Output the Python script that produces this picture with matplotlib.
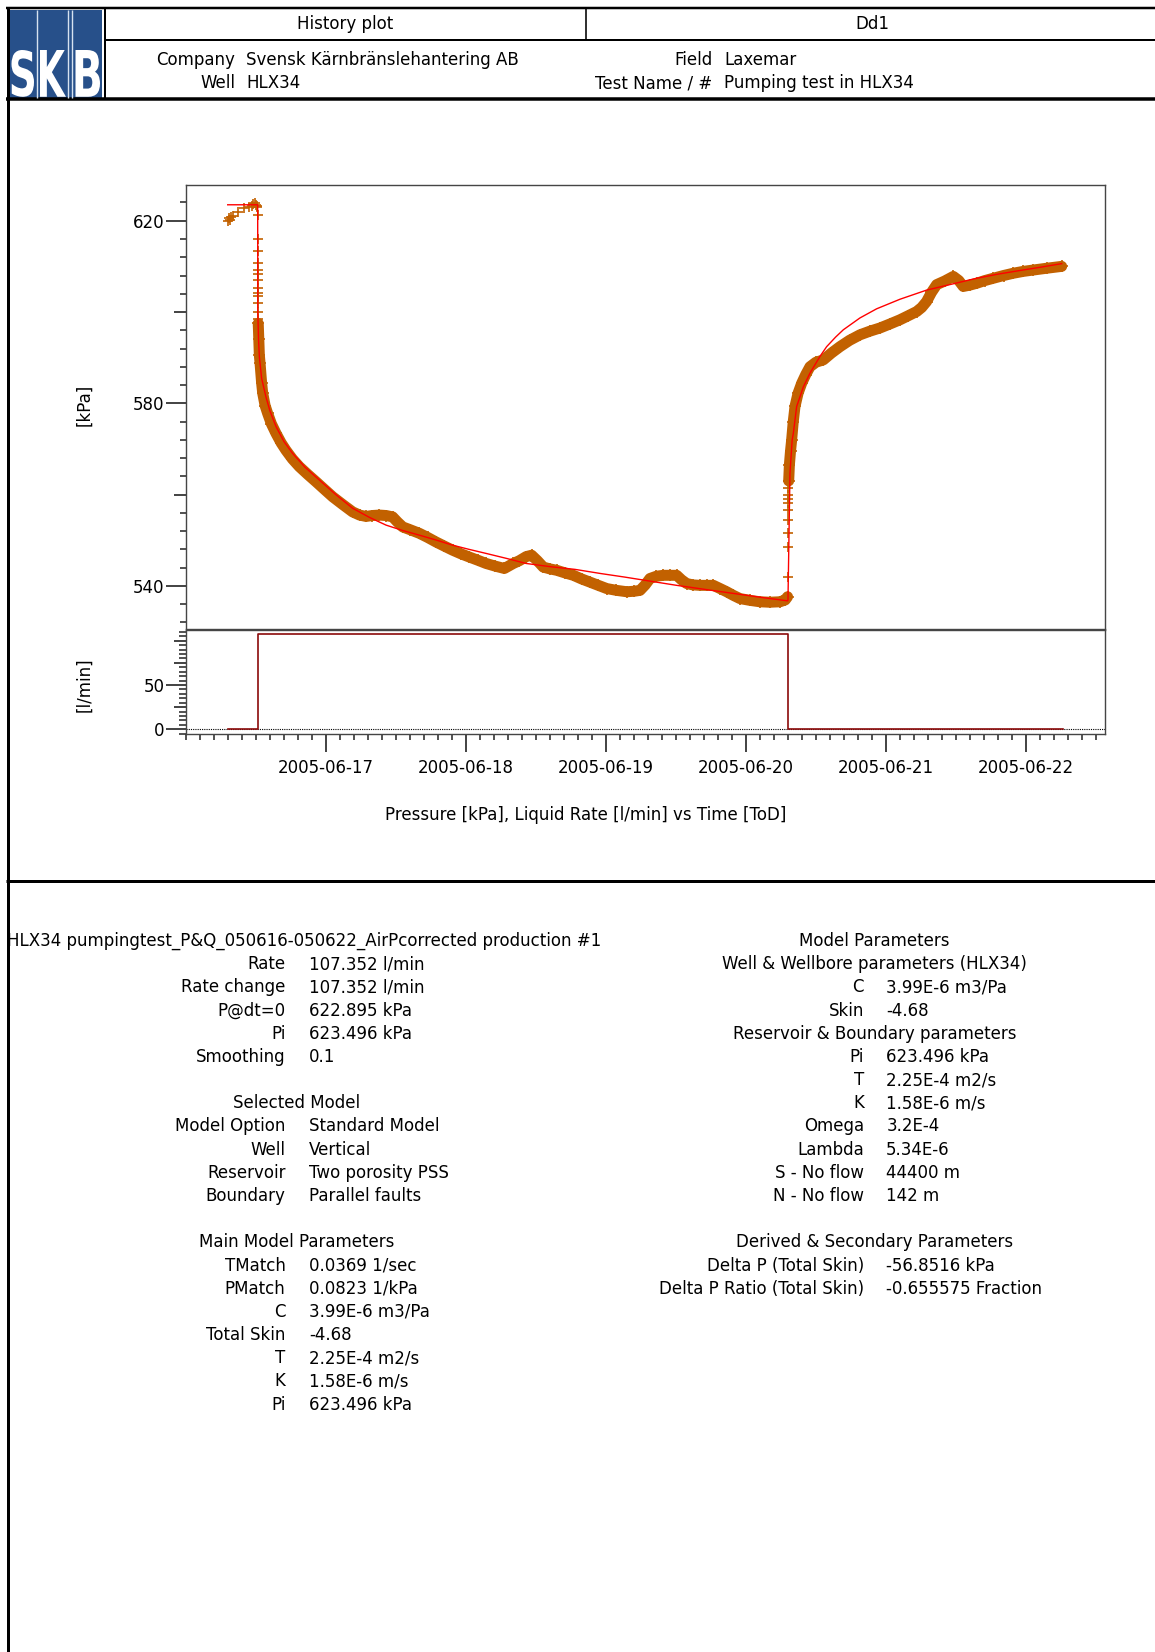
import numpy as np
import matplotlib
matplotlib.use("Agg")
import matplotlib.pyplot as plt
import matplotlib.dates as mdates
from matplotlib.ticker import MultipleLocator, FixedLocator
from matplotlib.patches import Rectangle, PathPatch
from matplotlib.lines import Line2D
from matplotlib.textpath import TextPath
from matplotlib.font_manager import FontProperties
from matplotlib.transforms import Affine2D

plt.rcParams["font.family"] = ["DejaVu Sans"]
plt.rcParams["font.size"] = 12

# ---------------------------------------------------------------- data
# Times are given as fractional day of June 2005.
pre_day = [16.300, 16.305, 16.312, 16.322, 16.335, 16.369, 16.417, 16.452,
           16.468, 16.480, 16.490, 16.498, 16.505, 16.510]
pre_kpa = [620.0, 620.6, 620.2, 620.8, 621.1, 621.9, 622.7, 623.0,
           623.2, 623.6, 623.9, 623.5, 623.3, 623.0]

drop_day = [16.512] * 13
drop_kpa = [621.3, 616.0, 613.3, 610.8, 609.2, 608.3, 607.1, 605.2, 604.1,
            603.4, 601.9, 600.1, 598.5]

draw_day = [16.516, 16.520, 16.524, 16.529, 16.540, 16.548, 16.565, 16.583,
            16.610, 16.643, 16.680, 16.714, 16.760, 16.810, 16.870, 16.929,
            16.990, 17.048, 17.120, 17.190, 17.240, 17.286, 17.330, 17.381,
            17.430, 17.476, 17.510, 17.548, 17.600, 17.667, 17.726, 17.786,
            17.845, 17.905, 17.965, 18.024, 18.085, 18.143, 18.210, 18.274,
            18.338, 18.381, 18.430, 18.469, 18.510, 18.552, 18.600, 18.648,
            18.710, 18.767, 18.826, 18.886, 18.945, 19.005, 19.075, 19.148,
            19.200, 19.243, 19.280, 19.314, 19.360, 19.410, 19.460, 19.505,
            19.540, 19.576, 19.620, 19.671, 19.720, 19.767, 19.815, 19.862,
            19.910, 19.957, 20.030, 20.100, 20.170, 20.243, 20.280, 20.297]
draw_kpa = [597.5, 594.0, 590.5, 588.8, 584.5, 582.2, 579.5, 577.8,
            575.5, 573.4, 571.3, 569.7, 567.8, 566.1, 564.4, 562.8,
            561.1, 559.5, 557.8, 556.2, 555.5, 555.2, 555.4, 555.5,
            555.4, 555.1, 554.0, 552.9, 552.3, 551.5, 550.6, 549.6,
            548.7, 547.8, 547.0, 546.3, 545.6, 544.9, 544.3, 543.8,
            544.9, 545.5, 546.4, 546.7, 545.5, 544.1, 543.7, 543.4,
            542.8, 542.3, 541.5, 540.8, 540.1, 539.4, 539.0, 538.7,
            538.8, 539.0, 540.2, 541.6, 542.1, 542.3, 542.3, 542.3,
            541.3, 540.5, 540.2, 540.1, 540.1, 540.1, 539.4, 538.7,
            537.9, 537.2, 536.8, 536.5, 536.4, 536.5, 536.9, 537.6]

jump_day = [20.300] * 10
jump_kpa = [541.9, 548.5, 551.5, 554.4, 556.6, 558.1, 559.1, 559.9, 561.5, 563.0]

recov_day = [20.305, 20.310, 20.318, 20.326, 20.337, 20.350, 20.372, 20.398,
             20.427, 20.457, 20.500, 20.552, 20.610, 20.671, 20.740, 20.814,
             20.885, 20.957, 21.030, 21.100, 21.160, 21.219, 21.255, 21.290,
             21.325, 21.362, 21.420, 21.481, 21.520, 21.552, 21.600, 21.648,
             21.707, 21.767, 21.840, 21.910, 21.980, 22.052, 22.150, 22.255]
recov_kpa = [563.0, 566.5, 569.5, 571.9, 575.8, 579.3, 582.2, 584.4,
             586.3, 588.0, 589.0, 589.5, 591.0, 592.4, 593.8, 595.0,
             595.8, 596.5, 597.4, 598.3, 599.2, 600.1, 601.0, 602.3,
             604.3, 606.0, 606.8, 607.8, 606.9, 605.6, 605.9, 606.3,
             606.9, 607.4, 608.0, 608.5, 608.9, 609.2, 609.6, 610.0]

model_day = [16.298, 16.512, 16.513, 16.518, 16.524, 16.540, 16.571, 16.600,
             16.643, 16.700, 16.762, 16.850, 16.952, 17.070, 17.190, 17.310,
             17.429, 17.550, 17.667, 17.790, 17.905, 18.020, 18.143, 18.290,
             18.429, 18.600, 18.779, 18.960, 19.136, 19.320, 19.505, 19.710,
             19.917, 20.100, 20.298, 20.300, 20.314, 20.330, 20.338, 20.362,
             20.410, 20.457, 20.529, 20.576, 20.640, 20.695, 20.814, 20.933,
             21.100, 21.290, 21.469, 21.648, 21.800, 21.957, 22.100, 22.255]
model_kpa = [623.5, 623.5, 600.0, 594.0, 590.2, 585.5, 581.4, 578.3,
             574.9, 571.6, 569.0, 566.0, 563.2, 560.0, 557.0, 555.0,
             553.3, 552.1, 551.1, 550.0, 548.9, 548.0, 547.1, 546.0,
             544.9, 544.2, 543.6, 542.7, 541.9, 541.0, 540.1, 539.2,
             538.3, 537.5, 536.7, 537.0, 564.6, 572.0, 573.4, 579.3,
             583.6, 586.6, 590.3, 592.4, 594.5, 596.1, 598.7, 600.7,
             602.8, 604.8, 606.1, 607.4, 608.3, 609.1, 609.8, 610.6]

rate_day = [16.298, 16.512, 16.512, 20.298, 20.298, 22.264]
rate_lpm = [0.0, 0.0, 107.352, 107.352, 0.0, 0.0]

date_ticks = [17, 18, 19, 20, 21, 22]
p_ticks = [540, 560, 580, 600, 620]
p_tick_labels = ["540", "", "580", "", "620"]
q_ticks = [0, 25, 50, 75, 100]
q_tick_labels = ["0", "", "50", "", ""]

header_left = [("Company", "Svensk Kärnbränslehantering AB"), ("Well", "HLX34")]
header_right = [("Field", "Laxemar"), ("Test Name / #", "Pumping test in HLX34")]

rate_labels = ["Rate", "Rate change", "P@dt=0", "Pi", "Smoothing"]
rate_values = ["107.352 l/min", "107.352 l/min", "622.895 kPa", "623.496 kPa", "0.1"]
model_labels = ["Model Option", "Well", "Reservoir", "Boundary"]
model_values = ["Standard Model", "Vertical", "Two porosity PSS", "Parallel faults"]
main_labels = ["TMatch", "PMatch", "C", "Total Skin", "T", "K", "Pi"]
main_values = ["0.0369 1/sec", "0.0823 1/kPa", "3.99E-6 m3/Pa", "-4.68",
               "2.25E-4 m2/s", "1.58E-6 m/s", "623.496 kPa"]
well_labels = ["C", "Skin"]
well_values = ["3.99E-6 m3/Pa", "-4.68"]
res_labels = ["Pi", "T", "K", "Omega", "Lambda", "S - No flow", "N - No flow"]
res_values = ["623.496 kPa", "2.25E-4 m2/s", "1.58E-6 m/s", "3.2E-4", "5.34E-6",
              "44400 m", "142 m"]
derived_labels = ["Delta P (Total Skin)", "Delta P Ratio (Total Skin)"]
derived_values = ["-56.8516 kPa", "-0.655575 Fraction"]


def to_time(days):
    secs = np.round((np.asarray(days, dtype=float) - 1.0) * 86400).astype("int64")
    return np.datetime64("2005-06-01T00:00:00") + secs.astype("timedelta64[s]")


# ---------------------------------------------------------------- figure
W, H = 1155, 1652
fig = plt.figure(figsize=(W / 100, H / 100), dpi=100)
fig.patch.set_facecolor("white")


def px_axes(x0, y0, x1, y1):
    return fig.add_axes([x0 / W, 1 - y1 / H, (x1 - x0) / W, (y1 - y0) / H])


# page background layer in pixel coordinates
bg = fig.add_axes([0, 0, 1, 1], zorder=0)
bg.set_xlim(0, W)
bg.set_ylim(H, 0)
bg.axis("off")

ORANGE = "#C26100"
FRAME = "#454545"
PX = 0.72  # points per pixel

ax_p = px_axes(186, 184.7, 1104.8, 628.7)
ax_q = px_axes(186, 630.3, 1104.8, 733.7)
for a in (ax_p, ax_q):
    a.set_zorder(2)
    for s in a.spines.values():
        s.set_color(FRAME)
        s.set_linewidth(1.4 * PX)

# pressure panel
for d, p in ((draw_day, draw_kpa), (recov_day, recov_kpa)):
    ax_p.plot(to_time(d), p, color=ORANGE, lw=11 * PX,
              solid_capstyle="round", solid_joinstyle="round", zorder=2)
    ax_p.plot(to_time(d), p, ls="none", marker="+", ms=9, mew=1.2,
              color=ORANGE, zorder=2)
for d, p in ((pre_day, pre_kpa), (drop_day, drop_kpa), (jump_day, jump_kpa)):
    ax_p.plot(to_time(d), p, ls="none", marker="+", ms=7, mew=1.2,
              color=ORANGE, zorder=2)
ax_p.plot(to_time(model_day), model_kpa, color="#FF0000", lw=1.0, zorder=3)

ax_p.set_ylim(530.6, 627.9)
ax_p.yaxis.set_major_locator(FixedLocator(p_ticks))
ax_p.set_yticklabels(p_tick_labels)
ax_p.yaxis.set_minor_locator(MultipleLocator(4))
ax_p.tick_params(axis="y", which="major", length=20 * PX, width=1.2, pad=1,
                 color="#222222", labelsize=12)
ax_p.tick_params(axis="y", which="minor", length=6 * PX, width=1.2,
                 color="#333333")
for t, v in zip(ax_p.yaxis.get_major_ticks(), p_ticks):
    if v in (560, 600):
        t.tick1line.set_markersize(12 * PX)
ax_p.tick_params(axis="x", which="both", bottom=False, labelbottom=False)

# rate panel
ax_q.plot(to_time(rate_day), rate_lpm, color="#8B0A0A", lw=1.2, zorder=3)
ax_q.axhline(0, color="black", lw=0.8, ls=(0, (1, 1)), zorder=2)
ax_q.set_ylim(-5, 111.7)
ax_q.yaxis.set_major_locator(FixedLocator(q_ticks))
ax_q.set_yticklabels(q_tick_labels)
ax_q.yaxis.set_minor_locator(MultipleLocator(5))
ax_q.tick_params(axis="y", which="major", length=20 * PX, width=1.2, pad=1,
                 color="#222222", labelsize=12)
ax_q.tick_params(axis="y", which="minor", length=7 * PX, width=1.2,
                 color="#333333")
for t, v in zip(ax_q.yaxis.get_major_ticks(), q_ticks):
    if v in (25, 75, 100):
        t.tick1line.set_markersize(12 * PX)

ax_q.set_xlim(to_time([16.0])[0], to_time([22.563])[0])
ax_p.set_xlim(ax_q.get_xlim())
ax_q.xaxis.set_major_locator(FixedLocator(mdates.date2num(to_time(date_ticks))))
ax_q.xaxis.set_major_formatter(mdates.DateFormatter("%Y-%m-%d"))
ax_q.xaxis.set_minor_locator(MultipleLocator(0.1))
ax_q.tick_params(axis="x", which="major", length=18 * PX, width=1.2,
                 color="#222222", labelsize=12, pad=5)
ax_q.tick_params(axis="x", which="minor", length=6 * PX, width=1.2,
                 color="#333333")

# axis titles
bg.text(84, 405, "[kPa]", rotation=90, ha="center", va="center", fontsize=12)
bg.text(84, 685, "[l/min]", rotation=90, ha="center", va="center", fontsize=12)
bg.text(586, 815, "Pressure [kPa], Liquid Rate [l/min] vs Time [ToD]",
        ha="center", va="center", fontsize=12)

# ---------------------------------------------------------------- header
def hline(y, x0, x1, lw_px, color="black"):
    bg.add_line(Line2D([x0, x1], [y, y], color=color, lw=lw_px * PX,
                       solid_capstyle="butt", zorder=5))


def vline(x, y0, y1, lw_px, color="black"):
    bg.add_line(Line2D([x, x], [y0, y1], color=color, lw=lw_px * PX,
                       solid_capstyle="butt", zorder=5))


hline(8, 6, W, 2.5)
hline(40, 105, W, 2.0)
hline(99, 6, W, 3.5)
hline(881, 6, W, 3.0)
vline(105, 8, 99, 2.0)
vline(586, 8, 40, 1.6)

# logo
bg.add_patch(Rectangle((9, 9.5), 93, 88, facecolor="#27508A", edgecolor="none",
                       zorder=3))
for x in (36.5, 68.3, 71.8):
    vline(x, 9.5, 97.5, 1.4, color="#D6E2F0")
logo_font = FontProperties(family="DejaVu Sans", weight="bold")
for ch, (lx0, lx1) in zip("SKB", [(11.5, 34.0), (40.0, 66.0), (75.5, 100.0)]):
    tp = TextPath((0, 0), ch, size=50, prop=logo_font)
    ext = tp.get_extents()
    sx = (lx1 - lx0) / ext.width
    sy = (96.8 - 50.0) / ext.height
    tr = Affine2D().translate(-ext.x0, -ext.y0).scale(sx, -sy).translate(lx0, 96.8)
    bg.add_patch(PathPatch(tr.transform_path(tp), facecolor="white",
                           edgecolor="none", zorder=4))

bg.text(345.5, 24, "History plot", ha="center", va="center")
bg.text(872, 24, "Dd1", ha="center", va="center")
for i, (lab, val) in enumerate(header_left):
    y = 60 + i * 23
    bg.text(235, y, lab, ha="right", va="center")
    bg.text(246.5, y, val, ha="left", va="center")
for i, (lab, val) in enumerate(header_right):
    y = 60 + i * 23
    bg.text(712.4, y, lab, ha="right", va="center")
    bg.text(724, y, val, ha="left", va="center")

# ---------------------------------------------------------------- report text
ROW0, STEP = 941.0, 23.18
LX_LAB, LX_VAL, LX_MID = 285.6, 308.8, 297.0
RX_LAB, RX_VAL, RX_MID = 864.1, 886.2, 874.7


def row(i):
    return ROW0 + i * STEP


bg.text(601.7, row(0),
        "HLX34 pumpingtest_P&Q_050616-050622_AirPcorrected production #1",
        ha="right", va="center", zorder=1)


def pairs(labels, values, start, xl, xv):
    for k, (lab, val) in enumerate(zip(labels, values)):
        bg.text(xl, row(start + k), lab, ha="right", va="center")
        bg.text(xv, row(start + k), val, ha="left", va="center")


pairs(rate_labels, rate_values, 1, LX_LAB, LX_VAL)
bg.text(LX_MID, row(7), "Selected Model", ha="center", va="center")
pairs(model_labels, model_values, 8, LX_LAB, LX_VAL)
bg.text(LX_MID, row(13), "Main Model Parameters", ha="center", va="center")
pairs(main_labels, main_values, 14, LX_LAB, LX_VAL)

bg.text(RX_MID, row(0), "Model Parameters", ha="center", va="center")
bg.text(RX_MID, row(1), "Well & Wellbore parameters (HLX34)", ha="center", va="center")
pairs(well_labels, well_values, 2, RX_LAB, RX_VAL)
bg.text(RX_MID, row(4), "Reservoir & Boundary parameters", ha="center", va="center")
pairs(res_labels, res_values, 5, RX_LAB, RX_VAL)
bg.text(RX_MID, row(13), "Derived & Secondary Parameters", ha="center", va="center")
pairs(derived_labels, derived_values, 14, RX_LAB, RX_VAL)

# left page margin and border
bg.add_patch(Rectangle((0, 0), 7, H, facecolor="white", edgecolor="none", zorder=4))
vline(8, 7, H, 3.0)

fig.savefig("out.png", dpi=100, facecolor="white")
